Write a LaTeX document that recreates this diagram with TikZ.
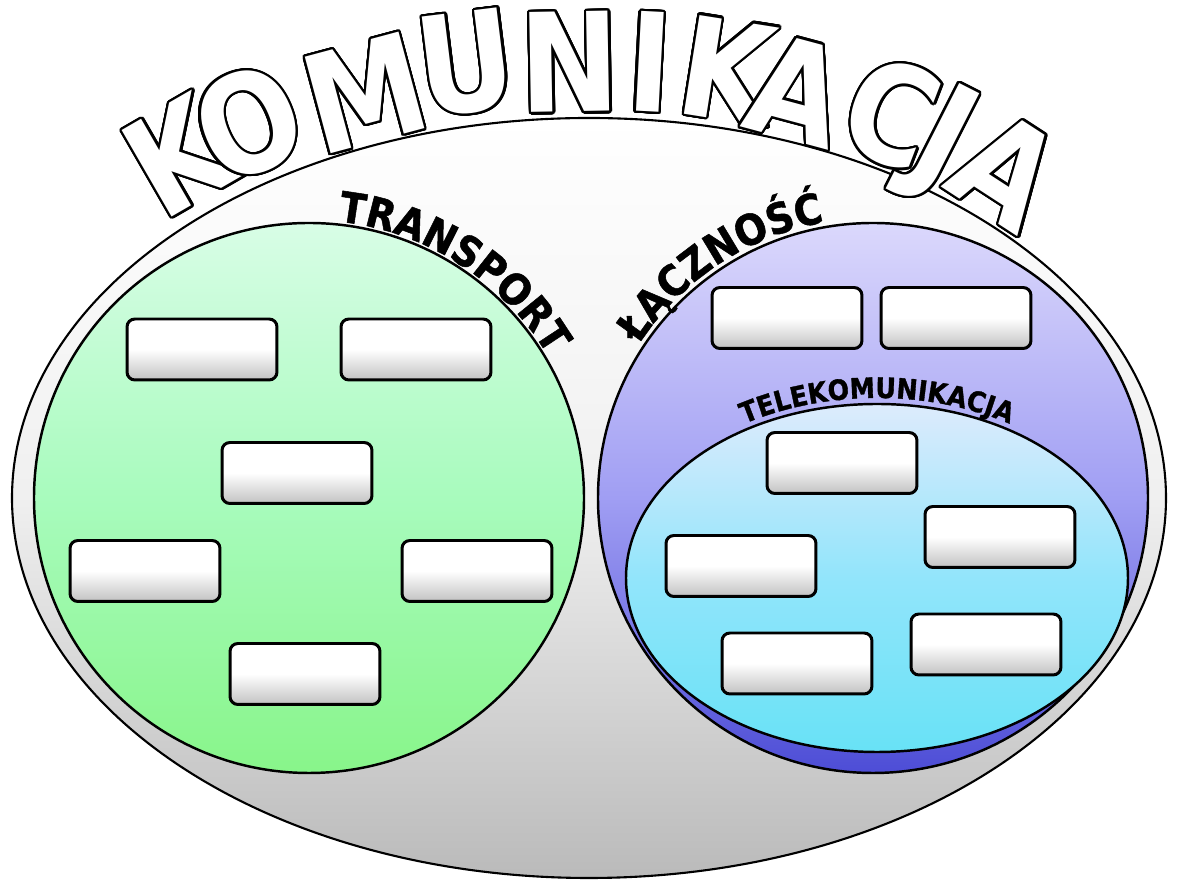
\documentclass[tikz,border=0pt]{standalone}
\usepackage{fontspec}
\usepackage{contour}
\usetikzlibrary{calc, decorations.text}
\newfontfamily\titlefont{DejaVu Sans Condensed Bold}[FakeStretch=0.97]
\newfontfamily\labelfont{DejaVu Sans Condensed Bold}[FakeBold=1.2]
\contourlength{1.3pt}
\contournumber{32}
\definecolor{transTop}{HTML}{D8FDE6}
\definecolor{transMid}{HTML}{A8FBBD}
\definecolor{transBot}{HTML}{88F58A}
\definecolor{laczTop}{HTML}{DBD8FC}
\definecolor{laczMid}{HTML}{A09EF3}
\definecolor{laczBot}{HTML}{4D4DD6}
\definecolor{teleTop}{HTML}{DDEBFC}
\definecolor{teleMid}{HTML}{92E5FB}
\definecolor{teleBot}{HTML}{68E2F6}

\begin{document}
\begin{tikzpicture}[x=0.02cm, y=0.02cm,
    box/.style={draw, line width=1.7pt, rounded corners=4.5pt, minimum width=3.0cm, minimum height=1.22cm, inner sep=0pt,
      top color=white, bottom color=black!24, middle color=white},
    area/.style={draw, line width=1.4pt},
    title letter/.style={text=white, anchor=center, inner sep=0pt, text depth=0pt, font=\titlefont\fontsize{78}{78}\selectfont}]
  \useasboundingbox (0,0) rectangle (1178,882);
  \coordinate (outer) at (589,384);
  \coordinate (trans) at (309,384);
  \coordinate (lacz) at (873,384);
  \coordinate (tele) at (877,304);

  % obszary
  \draw[line width=1.2pt, top color=white, bottom color=black!27, middle color=black!6] (outer) ellipse [x radius=577, y radius=380];
  \draw[area, top color=transTop, bottom color=transBot, middle color=transMid] (trans) circle [radius=275];
  \draw[area, top color=laczTop, bottom color=laczBot, middle color=laczMid] (lacz) circle [radius=275];
  \draw[area, top color=teleTop, bottom color=teleBot, middle color=teleMid] (tele) ellipse [x radius=251, y radius=174];

  % pola transport
  \node[box] (tr1) at (202,532.5) {};
  \node[box] (tr2) at (416,532.5) {};
  \node[box] (tr3) at (297,409) {};
  \node[box] (tr4) at (145,311) {};
  \node[box] (tr5) at (477,311) {};
  \node[box] (tr6) at (305,208) {};
  % pola lacznosc
  \node[box] (la1) at (787,564) {};
  \node[box] (la2) at (956,564) {};
  % pola telekomunikacja
  \node[box] (te1) at (842,419) {};
  \node[box] (te2) at (1000,345) {};
  \node[box] (te3) at (741,316) {};
  \node[box] (te4) at (797,218.5) {};
  \node[box] (te5) at (986,237.5) {};

  % napisy na lukach
  \path[decorate, decoration={text along path, text align=center,
      text={|\labelfont\fontsize{24}{24}\selectfont|TRANSPORT}}]
    ($(trans)+(97.4:278)$) arc [start angle=97.4, end angle=17.4, radius=278];
  \path[decorate, decoration={text along path, text align=center,
      text={|\labelfont\fontsize{24}{24}\selectfont|ŁĄCZNOŚĆ}}]
    ($(lacz)+(163.3:280)$) arc [start angle=163.3, end angle=83.3, radius=280];
  \path[decorate, decoration={text along path, text align=center,
      text={|\labelfont\fontsize{16}{16}\selectfont|TELEKOMUNIKACJA}}]
    ($(tele)+(150:257 and 180)$) arc [start angle=150, end angle=30, x radius=257, y radius=180];

  % tytul
  \foreach \ch/\x/\y/\r [count=\i] in {K/178/726/30, O/248/760/23, M/365/789/15, U/466/820/7, N/570/820/1, I/650/820/-3,
      K/727/812/-9, A/797/792/-15, C/892/770/-21, J/947/749/-27, A/1007/712/-33}
    \node[title letter, rotate=\r] (kom\i) at (\x,\y) {\contour{black}{\ch}};
\end{tikzpicture}
\end{document}
